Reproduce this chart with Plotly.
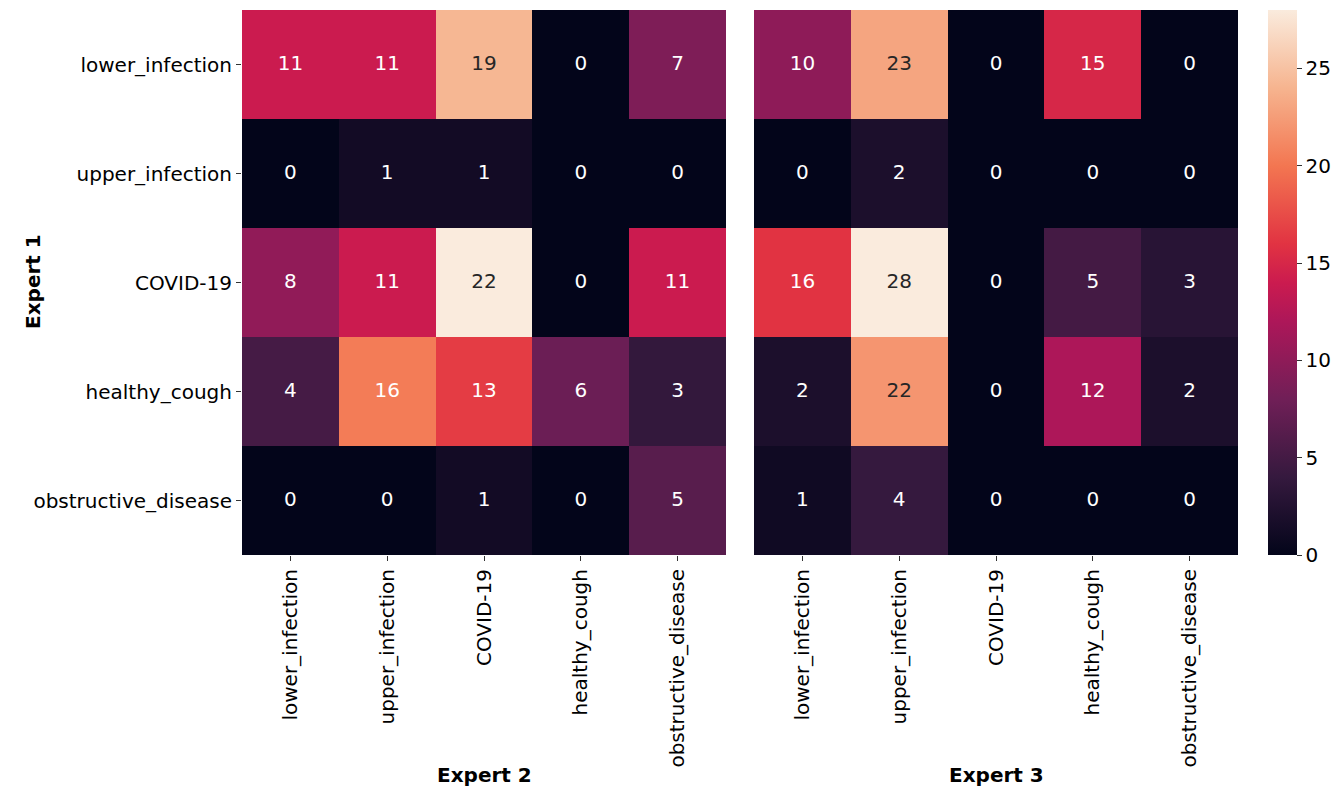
import plotly.graph_objects as go

classes = ["lower_infection", "upper_infection", "COVID-19", "healthy_cough", "obstructive_disease"]
expert2 = [
    [11, 11, 19, 0, 7],
    [0, 1, 1, 0, 0],
    [8, 11, 22, 0, 11],
    [4, 16, 13, 6, 3],
    [0, 0, 1, 0, 5],
]
expert3 = [
    [10, 23, 0, 15, 0],
    [0, 2, 0, 0, 0],
    [16, 28, 0, 5, 3],
    [2, 22, 0, 12, 2],
    [1, 4, 0, 0, 0],
]
cbar_ticks = [0, 5, 10, 15, 20, 25]

rocket = [
    [0.0, "#03051a"],
    [0.0714, "#1c0f2c"],
    [0.143, "#35193e"],
    [0.286, "#701f57"],
    [0.429, "#ad1759"],
    [0.5, "#cb1b4f"],
    [0.571, "#e13342"],
    [0.714, "#f37651"],
    [0.857, "#f6b48f"],
    [1.0, "#faebdd"],
]

def hex2rgb(h):
    h = h.lstrip("#")
    return tuple(int(h[i:i + 2], 16) / 255 for i in (0, 2, 4))

def cmap(t):
    for (a, ca), (b, cb) in zip(rocket[:-1], rocket[1:]):
        if a <= t <= b:
            f = (t - a) / (b - a) if b > a else 0
            r1, r2 = hex2rgb(ca), hex2rgb(cb)
            return tuple(r1[i] + f * (r2[i] - r1[i]) for i in range(3))
    return hex2rgb(rocket[-1][1])

def lum(rgb):
    def lin(c):
        return c / 12.92 if c <= 0.03928 else ((c + 0.055) / 1.055) ** 2.4
    r, g, b = (lin(c) for c in rgb)
    return 0.2126 * r + 0.7152 * g + 0.0722 * b

FONT = "DejaVu Sans"
FS = 20
# page body has an 8px margin, so figure is 8px smaller and coordinates shifted
OFF = 8
W, H = 1343 - OFF, 792 - OFF

def px(x):
    return (x - OFF) / W

def py(y):
    return 1 - (y - OFF) / H

fig = go.Figure()

def add_panel(z, xa, ya, showscale):
    zmax = max(max(r) for r in z)
    fig.add_trace(go.Heatmap(
        z=z, x=classes, y=classes, colorscale=rocket, zmin=0, zmax=zmax,
        xaxis=xa, yaxis=ya, showscale=showscale, hoverinfo="skip",
        colorbar=dict(
            x=px(1268), xanchor="left", y=py(555), yanchor="bottom",
            len=545 / H, lenmode="fraction", thickness=29, outlinewidth=0,
            xpad=0, ypad=0,
            tickvals=cbar_ticks, ticks="outside", ticklen=5, tickcolor="#333",
            tickfont=dict(family=FONT, size=FS, color="#000"),
        ) if showscale else None,
    ))
    xs, ys, txt, cols = [], [], [], []
    for i, row in enumerate(z):
        for j, v in enumerate(row):
            xs.append(classes[j])
            ys.append(classes[i])
            txt.append(str(v))
            cols.append("#262626" if lum(cmap(v / zmax)) > 0.408 else "#ffffff")
    fig.add_trace(go.Scatter(
        x=xs, y=ys, text=txt, mode="text", xaxis=xa, yaxis=ya,
        textfont=dict(family=FONT, size=FS, color=cols), hoverinfo="skip",
        showlegend=False,
    ))

add_panel(expert2, "x", "y", False)
add_panel(expert3, "x2", "y2", True)

ydom = [py(555), py(10)]
common_x = dict(tickangle=-90, ticks="outside", ticklen=5, tickcolor="#333",
                tickfont=dict(family=FONT, size=FS, color="#000"), showgrid=False,
                zeroline=False, showline=False, type="category",
                categoryorder="array", categoryarray=classes)
title_font = dict(family=FONT, size=FS, color="#000")
fig.update_layout(
    width=W, height=H, margin=dict(l=0, r=0, t=0, b=0),
    paper_bgcolor="white", plot_bgcolor="white", showlegend=False,
    xaxis=dict(domain=[px(242), px(726)], anchor="y", **common_x),
    xaxis2=dict(domain=[px(754), px(1238)], anchor="y2", **common_x),
    yaxis=dict(domain=ydom, anchor="x", type="category", categoryorder="array",
               categoryarray=classes, autorange="reversed", ticks="outside",
               ticklen=5, tickcolor="#333", showgrid=False, zeroline=False,
               tickfont=dict(family=FONT, size=FS, color="#000")),
    yaxis2=dict(domain=ydom, anchor="x2", type="category", categoryorder="array",
                categoryarray=classes, autorange="reversed", showticklabels=False,
                ticks="", showgrid=False, zeroline=False),
    annotations=[
        dict(text="<b>Expert 1</b>", x=px(33), y=py(282), xref="paper",
             yref="paper", textangle=-90, showarrow=False, xanchor="center",
             yanchor="middle", font=title_font),
        dict(text="<b>Expert 2</b>", x=px(484), y=py(775), xref="paper",
             yref="paper", showarrow=False, xanchor="center", yanchor="middle",
             font=title_font),
        dict(text="<b>Expert 3</b>", x=px(996), y=py(775), xref="paper",
             yref="paper", showarrow=False, xanchor="center", yanchor="middle",
             font=title_font),
    ],
)

fig.write_html("out.html")
